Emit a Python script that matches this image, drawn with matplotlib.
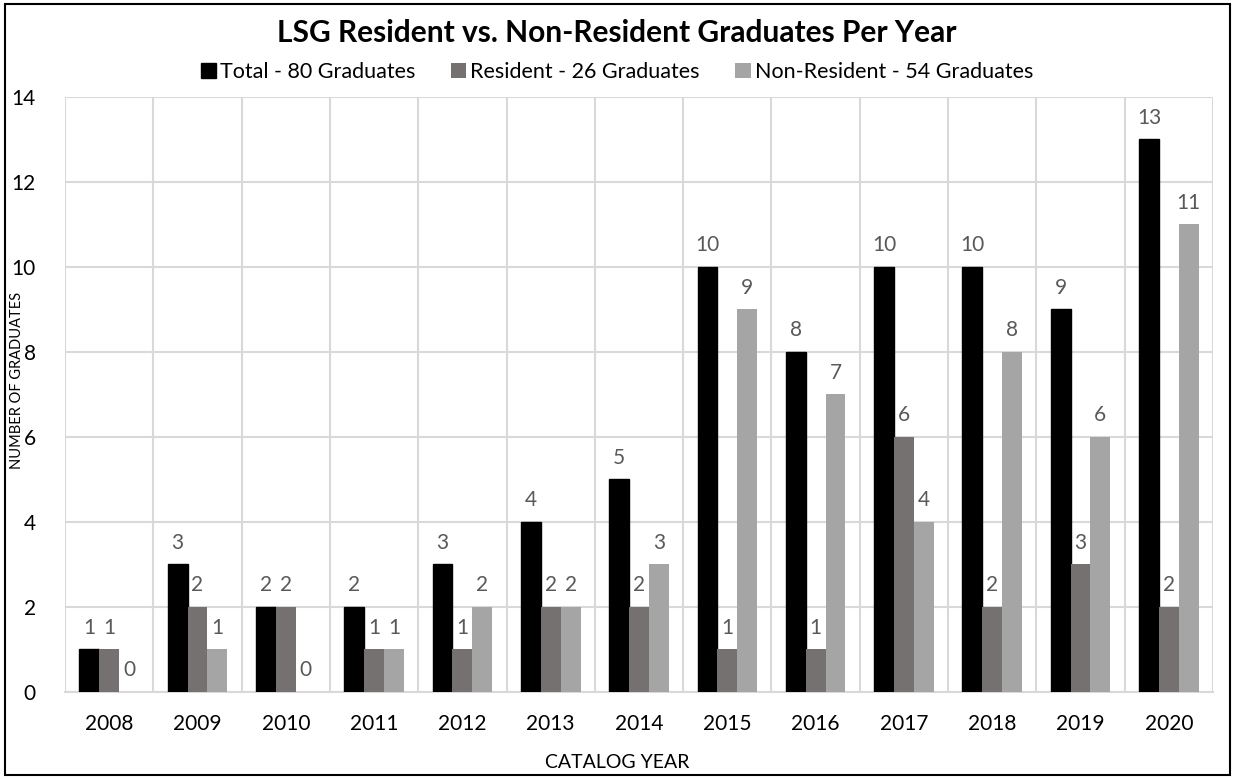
import numpy as np
import matplotlib.pyplot as plt
from matplotlib.patches import Rectangle

years = ["2008", "2009", "2010", "2011", "2012", "2013", "2014",
         "2015", "2016", "2017", "2018", "2019", "2020"]
total = [1, 3, 2, 2, 3, 4, 5, 10, 8, 10, 10, 9, 13]
resident = [1, 2, 2, 1, 1, 2, 2, 1, 1, 6, 2, 3, 2]
non_resident = [0, 1, 0, 1, 2, 2, 3, 9, 7, 4, 8, 6, 11]
labels = ["Total - 80 Graduates", "Resident - 26 Graduates",
          "Non-Resident - 54 Graduates"]
colors = ["#000000", "#767171", "#A5A5A5"]

plt.rcParams['font.family'] = ['Lato', 'DejaVu Sans']

fig = plt.figure(figsize=(12.34, 7.79), dpi=100)
ax = fig.add_axes([0.0527, 0.1117, 0.9303, 0.7638])

x = np.arange(len(years))
w = 0.225
series = [total, resident, non_resident]
for i, (vals, lab, c) in enumerate(zip(series, labels, colors)):
    pos = x + (i - 1) * w
    ax.bar(pos, vals, width=w, color=c, label=lab, zorder=3,
           edgecolor='black' if i == 0 else 'none', linewidth=1.0)
    for p, v in zip(pos, vals):
        ax.annotate(str(v), (p, v), xytext=(0, 8.5), textcoords='offset points',
                    ha='center', va='bottom', fontsize=15, color='#595959')

ax.set_xlim(-0.5, len(years) - 0.5)
ax.set_ylim(0, 14)
ax.set_yticks(range(0, 15, 2))
ax.set_xticks(x)
ax.set_xticklabels(years)
ax.set_xticks(np.arange(-0.5, len(years)), minor=True)
ax.grid(True, which='minor', axis='x', color='#D9D9D9', linewidth=1.5, zorder=0)
ax.grid(True, which='major', axis='y', color='#D9D9D9', linewidth=1.5, zorder=0)
ax.tick_params(which='both', length=0, labelsize=15)
ax.tick_params(axis='x', pad=16)
ax.tick_params(axis='y', pad=21)
for s in ax.spines.values():
    s.set_visible(False)
ax.spines['bottom'].set_visible(True)
ax.spines['bottom'].set_color('#D9D9D9')
ax.spines['bottom'].set_linewidth(1.5)

fig.text(0.5, (779 - 762) / 779, "CATALOG YEAR", fontsize=14,
         ha='center', va='center')
fig.text(17 / 1234, (779 - 380) / 779, "NUMBER OF GRADUATES", rotation=90,
         fontsize=10.5, ha='center', va='center')

fig.text(0.5, (779 - 33) / 779, "LSG Resident vs. Non-Resident Graduates Per Year",
         ha='center', va='center', fontsize=21.5, fontweight='bold')
fig.legend(loc='center', bbox_to_anchor=(0.5, (779 - 72) / 779), ncol=3,
           frameon=False, fontsize=15.5, handlelength=0.7, handleheight=0.7,
           handletextpad=0.2, columnspacing=1.65)

fig.patches.append(Rectangle((5 / 1234, 4 / 779), 1225 / 1234, 771 / 779,
                             transform=fig.transFigure, fill=False,
                             edgecolor='black', linewidth=1.5))

plt.savefig("out.png", dpi=100)
